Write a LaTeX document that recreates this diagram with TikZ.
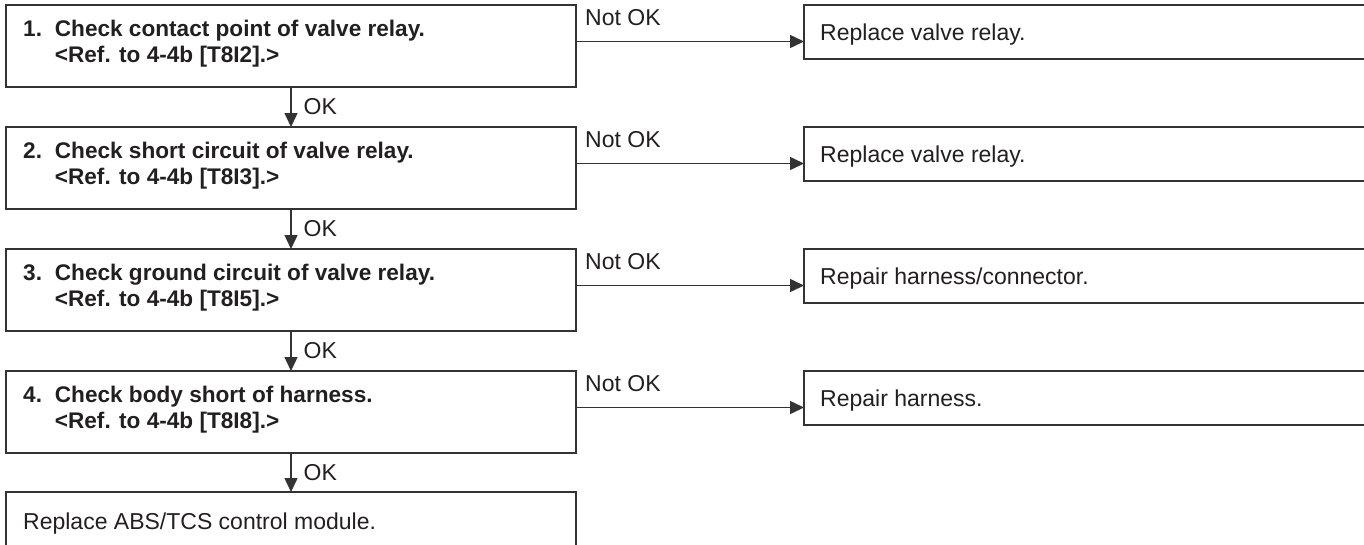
\documentclass[tikz,border=0pt]{standalone}
\usepackage{fontspec}
\setmainfont{Liberation Sans}
\usetikzlibrary{arrows.meta,calc}
\definecolor{ink}{HTML}{231F20}
\definecolor{edge}{HTML}{333333}
\tikzset{
  stepbox/.style={draw=edge, line width=1.8pt, minimum width=570pt, minimum height=82pt, anchor=north west, inner sep=0pt, outer sep=0pt},
  endbox/.style={stepbox, minimum height=54pt},
  fixbox/.style={draw=edge, line width=1.8pt, minimum width=570pt, minimum height=54pt, anchor=north west, inner sep=0pt, outer sep=0pt},
  steptext/.style={anchor=north west, inner sep=0pt, align=left, text=ink, font=\fontsize{22.6}{26.7}\selectfont\bfseries},
  plaintext/.style={anchor=base west, inner sep=0pt, text=ink, font=\fontsize{23}{27}\selectfont},
  arr/.style={draw=edge, line width=1.5pt, -{Triangle[length=14pt,width=13pt]}}
}
\newcommand{\stepnum}[1]{\makebox[31.7pt][l]{#1}}
\begin{document}
\begin{tikzpicture}[x=1pt,y=-1pt]
\useasboundingbox (0,0) rectangle (1364,544);
\clip (0,0) rectangle (1364,544);
% left column boxes
\node[stepbox] (b1) at (6,5) {};
\node[stepbox] (b2) at (6,127) {};
\node[stepbox] (b3) at (6,249) {};
\node[stepbox] (b4) at (6,371) {};
\node[endbox]  (b5) at (6,492) {};
% right column boxes
\node[fixbox] (r1) at (804,5) {};
\node[fixbox] (r2) at (804,127) {};
\node[fixbox] (r3) at (804,249) {};
\node[fixbox] (r4) at (804,371) {};
% step texts
\node[steptext] (t1) at ($(b1.north west)+(17,12.3)$) {\strut\stepnum{1.}Check contact point of valve relay.\\\strut\hspace*{31.7pt}<Ref. to 4-4b [T8I2].>};
\node[steptext] (t2) at ($(b2.north west)+(17,12.3)$) {\strut\stepnum{2.}Check short circuit of valve relay.\\\strut\hspace*{31.7pt}<Ref. to 4-4b [T8I3].>};
\node[steptext] (t3) at ($(b3.north west)+(17,12.3)$) {\strut\stepnum{3.}Check ground circuit of valve relay.\\\strut\hspace*{31.7pt}<Ref. to 4-4b [T8I5].>};
\node[steptext] (t4) at ($(b4.north west)+(17,12.3)$) {\strut\stepnum{4.}Check body short of harness.\\\strut\hspace*{31.7pt}<Ref. to 4-4b [T8I8].>};
\node[plaintext] (t5) at ($(b5.north west)+(17,37)$) {Replace ABS/TCS control module.};
% result texts
\node[plaintext] (s1) at ($(r1.north west)+(16,35.2)$) {Replace valve relay.};
\node[plaintext] (s2) at ($(r2.north west)+(16,35.2)$) {Replace valve relay.};
\node[plaintext] (s3) at ($(r3.north west)+(16,35.2)$) {Repair harness/connector.};
\node[plaintext] (s4) at ($(r4.north west)+(16,35.2)$) {Repair harness.};
% Not OK connectors
\foreach \i in {1,2,3,4}{
  \draw[arr] ($(b\i.north east)+(0,36.5)$) -- ($(r\i.north west)+(0,36.5)$);
  \node[plaintext] (n\i) at ($(b\i.north east)+(9,20)$) {Not OK};
}
% OK connectors
\foreach \i/\j in {1/2,2/3,3/4,4/5}{
  \draw[arr] (b\i.south) -- (b\j.north);
  \node[plaintext] (k\i) at ($(b\i.south)+(12.5,27.7)$) {OK};
}
\end{tikzpicture}
\end{document}
